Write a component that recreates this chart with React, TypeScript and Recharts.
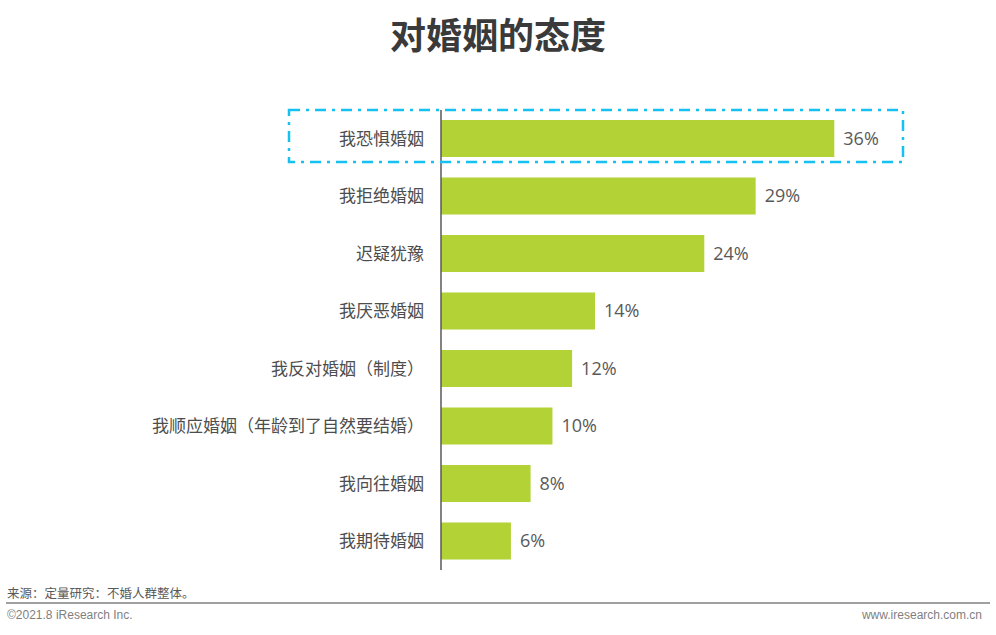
import React from "react";
import { BarChart, Bar, XAxis, YAxis, LabelList } from "recharts";

const categories = [
  "我恐惧婚姻",
  "我拒绝婚姻",
  "迟疑犹豫",
  "我厌恶婚姻",
  "我反对婚姻（制度）",
  "我顺应婚姻（年龄到了自然要结婚）",
  "我向往婚姻",
  "我期待婚姻",
];
const shares = [36.0, 28.8, 24.1, 14.1, 12.0, 10.2, 8.2, 6.4];

const title = "对婚姻的态度";
const sourceNote = "来源：定量研究：不婚人群整体。";
const copyright = "©2021.8 iResearch Inc.";
const website = "www.iresearch.com.cn";

const data = categories.map((name, i) => ({ name, value: shares[i] }));

const BAR_COLOR = "#b2d235";
const TEXT_GRAY = "#4d4d4d";

export default function App() {
  return (
    <div
      style={{
        position: "absolute",
        left: 0,
        top: 0,
        width: 996,
        height: 635,
        background: "#ffffff",
        overflow: "hidden",
      }}
    >
      <div
        style={{
          position: "absolute",
          left: 0,
          top: 13,
          width: 996,
          textAlign: "center",
          fontFamily: "'Noto Sans CJK SC', sans-serif",
          fontWeight: 700,
          fontSize: 36,
          lineHeight: "40px",
          color: "#3a3a3a",
        }}
      >
        {title}
      </div>

      <div style={{ position: "absolute", left: 0, top: 0 }}>
        <BarChart
          width={996}
          height={635}
          data={data}
          layout="vertical"
          margin={{ top: 110, right: 118, bottom: 65, left: 0 }}
          barCategoryGap={0}
        >
          <XAxis type="number" domain={[0, 40]} hide />
          <YAxis
            type="category"
            dataKey="name"
            width={441}
            tickLine={false}
            tickMargin={11}
            axisLine={{ stroke: "#595959", strokeWidth: 1.5 }}
            tick={{
              fill: TEXT_GRAY,
              fontSize: 17,
              fontFamily: "'Noto Sans CJK SC', sans-serif",
            }}
            interval={0}
          />
          <Bar
            dataKey="value"
            fill={BAR_COLOR}
            barSize={37}
            isAnimationActive={false}
          >
            <LabelList
              dataKey="value"
              position="right"
              offset={9}
              formatter={(v: any) => `${Math.round(Number(v))}%`}
              style={{
                fill: "#595959",
                fontSize: 18,
                fontFamily: "'Open Sans', sans-serif",
              }}
            />
          </Bar>
        </BarChart>
      </div>

      <svg
        width={996}
        height={635}
        style={{ position: "absolute", left: 0, top: 0, pointerEvents: "none" }}
      >
        <rect
          x={289}
          y={110}
          width={614}
          height={52}
          fill="none"
          stroke="#14c1f0"
          strokeWidth={2.5}
          strokeDasharray="11 6 3 6"
        />
        <line x1={6} y1={603} x2={990} y2={603} stroke="#808080" strokeWidth={1.5} />
      </svg>

      <div
        style={{
          position: "absolute",
          left: 7,
          top: 585,
          fontFamily: "'Noto Sans CJK SC', sans-serif",
          fontSize: 12.5,
          lineHeight: "16px",
          color: "#595959",
          whiteSpace: "nowrap",
        }}
      >
        {sourceNote}
      </div>
      <div
        style={{
          position: "absolute",
          left: 7,
          top: 607,
          fontFamily: "'Liberation Sans', Arial, sans-serif",
          fontSize: 12,
          lineHeight: "16px",
          color: "#7f7f7f",
          whiteSpace: "nowrap",
        }}
      >
        {copyright}
      </div>
      <div
        style={{
          position: "absolute",
          right: 14,
          top: 607,
          fontFamily: "'Liberation Sans', Arial, sans-serif",
          fontSize: 12,
          lineHeight: "16px",
          color: "#7f7f7f",
          whiteSpace: "nowrap",
        }}
      >
        {website}
      </div>
    </div>
  );
}
